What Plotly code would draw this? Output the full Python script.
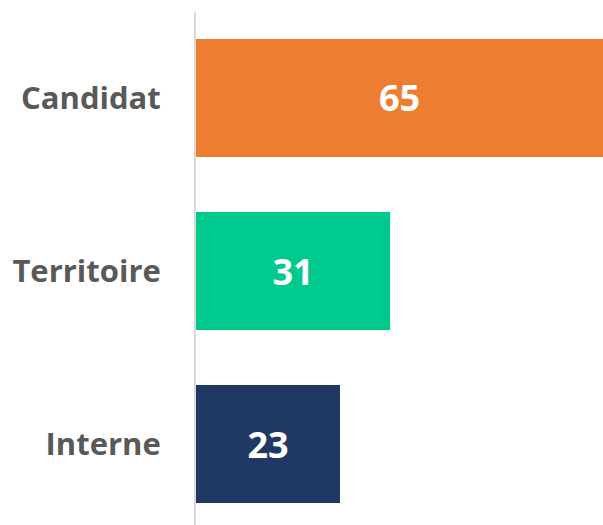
import plotly.graph_objects as go

categories = ["Candidat", "Territoire", "Interne"]
values = [65, 31, 23]
colors = ["#ED7D31", "#00C98E", "#203864"]

fig = go.Figure(go.Bar(
    x=values, y=categories, orientation="h",
    marker=dict(color=colors, line=dict(width=0)),
    width=0.682,
    text=[str(v) for v in values],
    textposition="inside", insidetextanchor="middle",
    textfont=dict(family="Open Sans", size=36, color="white", weight="bold"),
    cliponaxis=False,
    hoverinfo="skip",
))

fig.update_layout(
    width=603, height=525,
    margin=dict(l=196, r=0, t=12, b=0),
    paper_bgcolor="white", plot_bgcolor="white",
    showlegend=False,
    xaxis=dict(range=[0, 65], visible=False, showgrid=False, zeroline=False),
    yaxis=dict(
        categoryorder="array", categoryarray=categories,
        range=[2.468, -0.497],
        showline=True, linecolor="#D9D9D9", linewidth=2,
        showgrid=False, zeroline=False, ticks="",
        ticklabelstandoff=27,
        tickfont=dict(family="Open Sans", size=31, color="#595959", weight="bold"),
    ),
)

fig.write_html("out.html", config={"displayModeBar": False},
               post_script="document.body.style.margin='0';document.body.style.padding='0';")
